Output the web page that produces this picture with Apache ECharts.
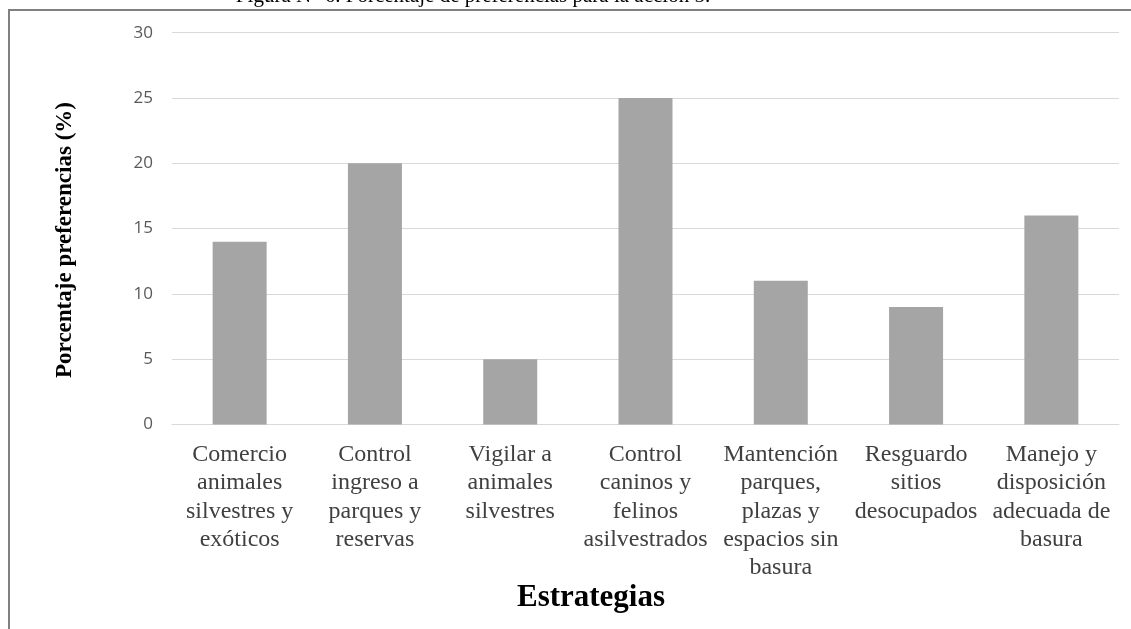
<!DOCTYPE html>
<html>
<head>
<meta charset="utf-8">
<script src="https://cdn.jsdelivr.net/npm/echarts@6/dist/echarts.min.js"></script>
<style>html,body{margin:0;padding:0;background:#fff;}#c{width:1131px;height:629px;}</style>
</head>
<body>
<div id="c"></div>
<script>
const categories = [
  "Comercio\nanimales\nsilvestres y\nexóticos",
  "Control\ningreso a\nparques y\nreservas",
  "Vigilar a\nanimales\nsilvestres",
  "Control\ncaninos y\nfelinos\nasilvestrados",
  "Mantención\nparques,\nplazas y\nespacios sin\nbasura",
  "Resguardo\nsitios\ndesocupados",
  "Manejo y\ndisposición\nadecuada de\nbasura"
];
const values = [14, 20, 5, 25, 11, 9, 16];
const yTicks = [0, 5, 10, 15, 20, 25, 30];
const captionText = "Figura N° 6. Porcentaje de preferencias para la acción 5.";
const xTitle = "Estrategias";
const yTitle = "Porcentaje preferencias (%)";

const chart = echarts.init(document.getElementById('c'), null, {renderer: 'canvas'});
chart.setOption({
  animation: false,
  backgroundColor: '#ffffff',
  graphic: [
    {type: 'rect', shape: {x: 9, y: 10, width: 1140, height: 640}, style: {fill: 'none', stroke: '#808080', lineWidth: 2}},
    {type: 'text', x: 473, y: 7, style: {text: captionText, font: '21px "Liberation Serif", "Times New Roman", serif', fill: '#000', align: 'center', verticalAlign: 'bottom'}},
    {type: 'text', x: 591, y: 598, style: {text: xTitle, font: 'bold 31px "Liberation Serif", "Times New Roman", serif', fill: '#000', align: 'center', verticalAlign: 'middle'}},
    {type: 'text', x: 65, y: 240, rotation: Math.PI / 2, style: {text: yTitle, font: 'bold 23px "Liberation Serif", "Times New Roman", serif', fill: '#000', align: 'center', verticalAlign: 'middle'}}
  ],
  grid: {left: 172, right: 12, top: 32.7, bottom: 204.5, containLabel: false},
  xAxis: {
    type: 'category',
    data: categories,
    axisLine: {show: true, lineStyle: {color: '#d9d9d9', width: 1}},
    axisTick: {show: false},
    axisLabel: {
      interval: 0, margin: 16,
      color: '#404040',
      fontFamily: '"Liberation Serif", "Times New Roman", serif',
      fontSize: 24, lineHeight: 28.3
    }
  },
  yAxis: {
    type: 'value',
    min: yTicks[0], max: yTicks[yTicks.length - 1], interval: 5,
    axisLine: {show: false},
    axisTick: {show: false},
    splitLine: {lineStyle: {color: '#d9d9d9', width: 1}},
    axisLabel: {color: '#595959', fontFamily: '"Open Sans", "Noto Sans", sans-serif', fontSize: 17, margin: 19}
  },
  series: [{
    type: 'bar',
    data: values,
    barWidth: 54,
    itemStyle: {color: '#a5a5a5'}
  }]
});
</script>
</body>
</html>
